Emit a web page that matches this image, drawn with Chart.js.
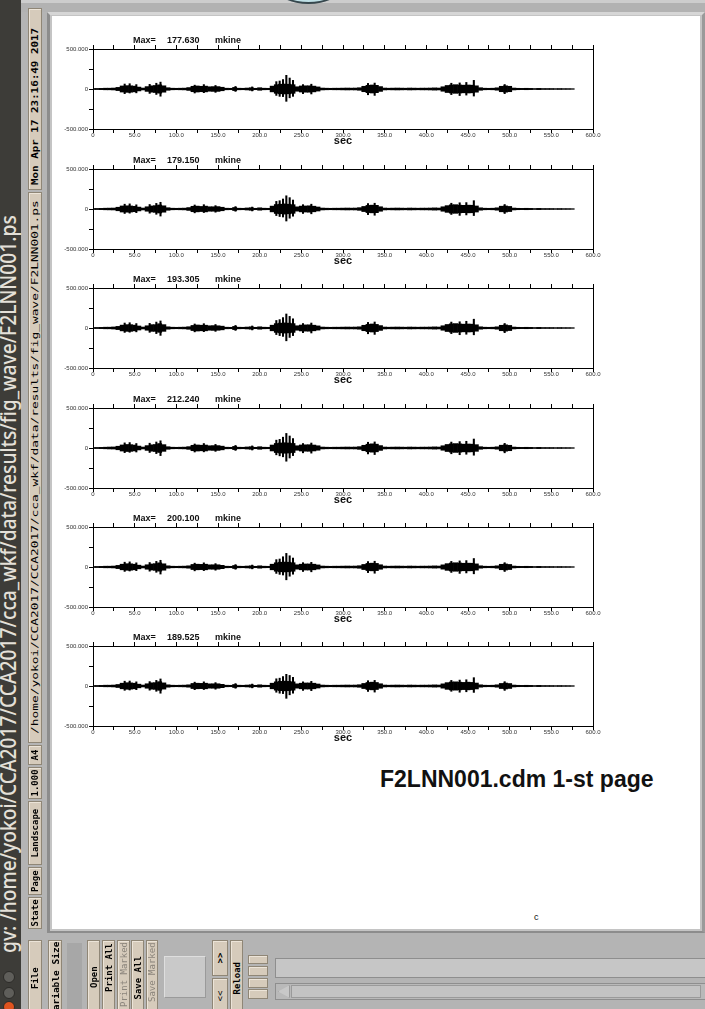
<!DOCTYPE html>
<html>
<head>
<meta charset="utf-8">
<script src="https://cdn.jsdelivr.net/npm/chart.js@4.4.1/dist/chart.umd.min.js"></script>
<style>
  html, body { margin: 0; padding: 0; }
  body { position: relative; width: 705px; height: 1009px; overflow: hidden; background: #b4b4b4; font-family: "Liberation Sans", Arial, sans-serif; }
  .abs { position: absolute; box-sizing: border-box; }
  .vt { position: absolute; left: 0; top: 0; white-space: nowrap; transform-origin: 0 0; line-height: 1; }
  .btn { background: #d6cbbb; border: 1px solid #8f8676; box-shadow: inset 1px 1px 0 #ece4d8; }
  canvas { position: absolute; }
</style>
</head>
<body>
<div class="abs" style="left:0;top:0;width:705px;height:3px;background:#cdcdcd"></div>
<div class="abs" style="left:20px;top:3px;width:685px;height:9px;background:#b2b2b2"></div>
<div class="abs" style="left:277px;top:-27px;width:63px;height:31px;border-radius:50%;border:2px solid #36474d;background:#bfe0e6"></div>
<div class="abs" style="left:47px;top:12px;width:658px;height:921px;border-top:3px solid #d6d6d6;border-left:3px solid #8c8c8c;border-right:3px solid #9a9a9a;border-bottom:2px solid #8c8c8c;background:#c4c4c4"></div>
<div class="abs" id="page" style="left:52px;top:16px;width:648px;height:913px;background:#fff"></div>
<div class="abs" style="left:380px;top:768px;font:bold 23px/23px 'Liberation Sans', Arial, sans-serif;color:#111;white-space:nowrap">F2LNN001.cdm 1-st page</div>
<div class="abs" style="left:534px;top:911px;font:9px/12px 'Liberation Sans', Arial, sans-serif;color:#111">c</div>
<div class="abs" style="left:0;top:0;width:21px;height:1009px;background:#3d3c38"></div>

<script>
// sample times of the envelope (sec)
const SEC = [0, 5, 10, 15, 20, 25, 30, 35, 40, 45,
  50, 55, 60, 65, 70, 75, 80, 85, 90, 95,
  100, 105, 110, 115, 120, 125, 130, 135, 140, 145,
  150, 155, 160, 165, 170, 175, 180, 185, 190, 195,
  200, 205, 210, 215, 220, 225, 230, 235, 240, 245,
  250, 255, 260, 265, 270, 275, 280, 285, 290, 295,
  300, 305, 310, 315, 320, 325, 330, 335, 340, 345,
  350, 355, 360, 365, 370, 375, 380, 385, 390, 395,
  400, 405, 410, 415, 420, 425, 430, 435, 440, 445,
  450, 455, 460, 465, 470, 475, 480, 485, 490, 495,
  500, 505, 510, 515, 520, 525, 530, 535, 540, 545,
  550, 555, 560, 565, 570, 575];

// dense core of each trace (mkine)
const TRACE_1 = [6, 7, 8, 10, 10, 12, 20, 38, 42, 40,
  36, 24, 12, 30, 40, 44, 52, 40, 16, 10,
  9, 10, 11, 18, 34, 38, 34, 36, 28, 30,
  30, 22, 10, 9, 20, 10, 9, 12, 16, 9,
  16, 10, 9, 36, 54, 60, 62, 60, 54, 28,
  38, 40, 40, 36, 26, 12, 10, 9, 10, 10,
  11, 12, 11, 12, 16, 34, 46, 50, 46, 30,
  12, 10, 11, 12, 11, 10, 12, 11, 10, 11,
  11, 12, 14, 12, 28, 44, 50, 54, 50, 48,
  50, 48, 40, 16, 10, 9, 10, 15, 34, 40,
  34, 12, 9, 8, 9, 8, 6, 8, 6, 6,
  6, 5, 6, 5, 5, 4];
const TRACE_2 = [6, 7, 8, 10, 11, 12, 22, 38, 40, 38,
  34, 24, 12, 28, 38, 42, 50, 40, 16, 10,
  9, 10, 11, 18, 34, 36, 32, 36, 28, 28,
  30, 22, 10, 9, 19, 10, 9, 13, 16, 9,
  15, 10, 9, 36, 56, 60, 64, 60, 54, 27,
  36, 38, 40, 35, 25, 12, 10, 9, 10, 10,
  11, 12, 11, 12, 17, 32, 45, 48, 46, 28,
  12, 10, 11, 12, 11, 10, 12, 11, 10, 11,
  11, 12, 14, 12, 28, 42, 52, 54, 48, 46,
  48, 47, 38, 15, 10, 9, 10, 15, 35, 38,
  32, 12, 9, 8, 9, 8, 6, 8, 6, 6,
  6, 5, 6, 5, 5, 4];
const TRACE_3 = [6, 7, 8, 10, 10, 13, 20, 36, 42, 42,
  36, 25, 12, 28, 42, 42, 54, 42, 15, 10,
  9, 10, 11, 16, 32, 38, 35, 35, 28, 30,
  28, 23, 10, 9, 20, 10, 9, 12, 15, 9,
  15, 10, 9, 35, 55, 61, 64, 61, 55, 28,
  37, 39, 40, 35, 26, 12, 10, 9, 10, 10,
  11, 12, 11, 12, 15, 34, 45, 50, 45, 30,
  12, 10, 11, 12, 11, 10, 12, 11, 10, 11,
  11, 12, 14, 12, 28, 44, 52, 55, 50, 48,
  50, 48, 40, 15, 10, 9, 10, 15, 34, 39,
  32, 12, 9, 8, 9, 8, 6, 8, 6, 6,
  6, 5, 6, 5, 5, 4];
const TRACE_4 = [6, 7, 8, 10, 12, 13, 22, 38, 44, 42,
  37, 24, 12, 30, 40, 44, 56, 42, 16, 10,
  9, 10, 11, 17, 34, 38, 35, 37, 28, 30,
  30, 23, 10, 9, 20, 10, 9, 13, 16, 9,
  16, 10, 9, 37, 57, 63, 66, 63, 57, 28,
  38, 40, 41, 37, 28, 12, 10, 9, 10, 10,
  11, 12, 11, 12, 17, 34, 47, 52, 48, 30,
  12, 10, 11, 12, 11, 10, 12, 11, 10, 11,
  11, 12, 14, 12, 28, 44, 52, 55, 52, 48,
  50, 48, 42, 16, 10, 9, 10, 15, 35, 40,
  34, 12, 9, 8, 9, 8, 6, 8, 6, 6,
  6, 5, 6, 5, 5, 4];
const TRACE_5 = [6, 7, 8, 10, 10, 12, 20, 35, 41, 40,
  35, 23, 12, 28, 38, 42, 52, 40, 15, 10,
  9, 10, 11, 15, 32, 35, 33, 35, 27, 28,
  28, 21, 10, 9, 19, 10, 9, 12, 15, 9,
  15, 10, 9, 35, 53, 60, 62, 60, 53, 27,
  35, 38, 38, 35, 26, 12, 10, 9, 10, 10,
  11, 12, 11, 12, 16, 32, 45, 48, 45, 28,
  12, 10, 11, 12, 11, 10, 12, 11, 10, 11,
  11, 12, 14, 12, 27, 42, 50, 53, 50, 47,
  48, 47, 39, 15, 10, 9, 10, 15, 34, 38,
  32, 12, 9, 8, 9, 8, 6, 8, 6, 6,
  6, 5, 6, 5, 5, 4];
const TRACE_6 = [6, 7, 8, 10, 10, 12, 19, 35, 41, 39,
  35, 23, 12, 28, 40, 42, 54, 39, 15, 10,
  9, 10, 11, 15, 32, 35, 33, 35, 27, 28,
  28, 21, 10, 9, 19, 10, 9, 12, 15, 9,
  15, 10, 9, 35, 52, 58, 61, 58, 52, 27,
  35, 38, 38, 35, 25, 12, 10, 9, 10, 10,
  11, 12, 11, 12, 16, 32, 44, 48, 44, 28,
  12, 10, 11, 12, 11, 10, 12, 11, 10, 11,
  11, 12, 14, 12, 27, 42, 50, 52, 48, 45,
  48, 45, 37, 15, 10, 9, 10, 15, 32, 37,
  31, 12, 9, 8, 9, 8, 6, 8, 6, 6,
  6, 5, 6, 5, 5, 4];

// single swings sticking out of the core: [sec, low, high]
const SPIKES_1 = [[38, -58, 62], [44, -50, 66], [52, -48, 55], [68, -55, 58], [76, -68, 72], [81, -90, 86],
  [122, -50, 48], [133, -46, 55], [147, -42, 44], [171, -30, 32], [191, -24, 26],
  [220, -80, 92], [224, -92, 100], [228, -95, 118], [232, -154, 171], [236, -110, 137], [240, -92, 108],
  [252, -58, 55], [262, -62, 60], [330, -72, 70], [338, -80, 74],
  [430, -70, 72], [440, -82, 76], [448, -76, 82], [457, -88, 108], [494, -58, 56]];
const SPIKES_2 = [[38, -56, 60], [44, -52, 64], [52, -46, 52], [68, -52, 56], [76, -66, 70], [81, -88, 84],
  [122, -48, 50], [133, -44, 54], [147, -40, 42], [171, -28, 30], [191, -24, 24],
  [220, -82, 95], [224, -94, 104], [228, -100, 125], [232, -150, 165], [236, -115, 142], [240, -90, 112],
  [252, -56, 54], [262, -60, 60], [330, -70, 68], [338, -78, 72],
  [430, -68, 72], [440, -80, 78], [448, -74, 80], [457, -82, 104], [494, -56, 56]];
const SPIKES_3 = [[38, -55, 62], [44, -52, 66], [52, -48, 56], [68, -54, 58], [76, -70, 74], [81, -92, 88],
  [122, -48, 50], [133, -46, 54], [147, -42, 44], [171, -30, 32], [191, -24, 25],
  [220, -82, 94], [224, -95, 105], [228, -105, 130], [232, -160, 175], [236, -118, 145], [240, -95, 115],
  [252, -58, 56], [262, -62, 62], [330, -72, 70], [338, -80, 75],
  [430, -70, 74], [440, -84, 78], [448, -78, 84], [457, -85, 110], [494, -58, 56]];
const SPIKES_4 = [[38, -58, 64], [44, -54, 68], [52, -50, 56], [68, -56, 60], [76, -70, 75], [81, -95, 90],
  [122, -50, 50], [133, -48, 56], [147, -42, 45], [171, -30, 32], [191, -25, 26],
  [220, -85, 98], [224, -98, 108], [228, -110, 135], [232, -165, 182], [236, -125, 150], [240, -95, 118],
  [252, -60, 56], [262, -64, 62], [330, -74, 72], [338, -82, 76],
  [430, -72, 74], [440, -84, 80], [448, -78, 84], [457, -90, 112], [494, -60, 58]];
const SPIKES_5 = [[38, -55, 60], [44, -50, 64], [52, -46, 52], [68, -52, 56], [76, -66, 70], [81, -88, 84],
  [122, -48, 48], [133, -45, 52], [147, -40, 42], [171, -28, 30], [191, -23, 24],
  [220, -80, 92], [224, -92, 100], [228, -100, 128], [232, -160, 170], [236, -115, 140], [240, -90, 112],
  [252, -56, 54], [262, -60, 58], [330, -70, 68], [338, -78, 72],
  [430, -68, 70], [440, -80, 76], [448, -74, 80], [457, -85, 106], [494, -56, 54]];
const SPIKES_6 = [[38, -54, 60], [44, -50, 62], [52, -46, 52], [68, -52, 55], [76, -66, 70], [81, -90, 88],
  [122, -46, 48], [133, -44, 52], [147, -40, 42], [171, -28, 30], [191, -23, 24],
  [220, -78, 90], [224, -90, 98], [228, -95, 118], [232, -154, 146], [236, -110, 132], [240, -90, 108],
  [252, -55, 52], [262, -58, 58], [330, -68, 66], [338, -76, 70],
  [430, -66, 70], [440, -78, 74], [448, -72, 78], [457, -80, 104], [494, -55, 54]];

const MAX_LABELS = ['177.630', '179.150', '193.305', '212.240', '200.100', '189.525'];
const UNIT = 'mkine';
const X_AXIS_TITLE = 'sec';

const TRACES = [TRACE_1, TRACE_2, TRACE_3, TRACE_4, TRACE_5, TRACE_6];
const SPIKES = [SPIKES_1, SPIKES_2, SPIKES_3, SPIKES_4, SPIKES_5, SPIKES_6];
const PANEL_TOPS = [49, 169, 288, 408, 527, 646];

Chart.defaults.font.family = '"Liberation Sans", Arial, sans-serif';

// titre "Max= ..." au-dessus du cadre et "sec" sous l'axe
const panelText = {
  id: 'panelText',
  afterDraw(chart, args, opts) {
    const { ctx, chartArea: a } = chart;
    ctx.save();
    ctx.fillStyle = '#111';
    ctx.textBaseline = 'middle';
    ctx.font = 'bold 9px "Liberation Sans", Arial, sans-serif';
    ctx.fillText('Max=', a.left + 40, a.top - 8);
    ctx.fillText(opts.max, a.left + 74, a.top - 8);
    ctx.fillText(UNIT, a.left + 122, a.top - 8);
    ctx.font = 'bold 11px "Liberation Sans", Arial, sans-serif';
    ctx.textAlign = 'center';
    ctx.fillText(X_AXIS_TITLE, (a.left + a.right) / 2, a.bottom + 12);
    ctx.restore();
  }
};

function makePanel(i) {
  const cv = document.createElement('canvas');
  cv.width = 580; cv.height = 126;
  cv.style.left = '38px';
  cv.style.top = (PANEL_TOPS[i] - 22) + 'px';
  document.body.appendChild(cv);

  const trace = TRACES[i];
  const edge = { color: '#000', width: 1 };
  new Chart(cv, {
    type: 'bar',
    data: {
      datasets: [{
        data: SEC.map((t, k) => ({ x: t, y: [-trace[k], trace[k]] })),
        backgroundColor: '#000',
        borderWidth: 0,
        barPercentage: 1,
        categoryPercentage: 1,
        grouped: false,
        xAxisID: 'x',
        yAxisID: 'y',
      }, {
        data: SPIKES[i].map((s) => ({ x: s[0], y: [s[1], s[2]] })),
        backgroundColor: '#000',
        borderWidth: 0,
        barThickness: 1.4,
        grouped: false,
        xAxisID: 'x2',
        yAxisID: 'y',
      }],
    },
    options: {
      responsive: false,
      animation: false,
      devicePixelRatio: 1,
      layout: { padding: 0 },
      plugins: { legend: { display: false }, tooltip: { enabled: false }, panelText: { max: MAX_LABELS[i] } },
      scales: {
        x: {
          type: 'linear', position: 'bottom', min: 0, max: 600, offset: false,
          grid: { offset: false, drawOnChartArea: false, tickLength: 4, color: '#000' },
          border: edge,
          ticks: {
            stepSize: 25, autoSkip: false, maxRotation: 0, padding: -1,
            color: '#333', font: { size: 6 },
            callback: (v) => (v % 50 === 0 ? (v === 0 ? '0' : v.toFixed(1)) : ''),
          },
          afterFit: (s) => { s.height = 24; },
        },
        x2: {
          type: 'linear', position: 'top', min: 0, max: 600, offset: false,
          grid: { offset: false, drawOnChartArea: false, tickLength: 4, color: '#000' },
          border: edge,
          ticks: { stepSize: 25, display: false, autoSkip: false },
          afterFit: (s) => { s.height = 22; },
        },
        y: {
          type: 'linear', position: 'left', min: -500, max: 500,
          grid: { drawOnChartArea: false, tickLength: 4, color: '#000' },
          border: edge,
          ticks: {
            stepSize: 250, autoSkip: false, padding: 1,
            color: '#333', font: { size: 6 },
            callback: (v) => (v === 0 ? '0' : Math.abs(v) === 500 ? v.toFixed(3) : ''),
          },
          afterFit: (s) => { s.width = 55; },
        },
        y2: {
          type: 'linear', position: 'right', min: -500, max: 500,
          grid: { display: false },
          border: edge,
          ticks: { display: false },
          afterFit: (s) => { s.width = 25; },
        },
      },
    },
    plugins: [panelText],
  });
}

for (let i = 0; i < 6; i++) makePanel(i);

// ---- fenêtre gv : barre de titre, colonne de gauche, boutons du bas ----
function box(x, y, w, h, cls, bg) {
  const d = document.createElement('div');
  d.className = 'abs ' + (cls || '');
  d.style.cssText += `left:${x}px;top:${y}px;width:${w}px;height:${h}px;` + (bg ? `background:${bg};` : '');
  document.body.appendChild(d);
  return d;
}

function vlabel(text, o) {
  const s = document.createElement('span');
  s.className = 'vt';
  s.textContent = text;
  s.style.font = o.font;
  s.style.color = o.color || '#000';
  document.body.appendChild(s);
  const w = s.offsetWidth, h = s.offsetHeight;
  const k = o.len ? o.len / w : 1;
  const len = w * k;
  let yb;
  if (o.bottom != null) yb = o.bottom;
  else if (o.top != null) yb = o.top + len;
  else yb = o.cy + len / 2;
  s.style.transform = `translate(${o.cx - h / 2}px, ${yb}px) rotate(-90deg) scaleX(${k})`;
}

const MONO = 'bold 9px "DejaVu Sans Mono", "Liberation Mono", monospace';
const MONO_N = '9px "DejaVu Sans Mono", "Liberation Mono", monospace';

// barre de titre
vlabel('gv: /home/yokoi/CCA2017/CCA2017/cca_wkf/data/results/fig_wave/F2LNN001.ps',
  { font: '500 22px "Noto Sans", "DejaVu Sans", sans-serif', color: '#e4e0d8', cx: 6.5, bottom: 953, len: 738 });
const circ = (cy, bg) => {
  const c = box(3, cy - 6, 12, 12, '', bg);
  c.style.borderRadius = '50%';
  c.style.border = '1px solid #2c2b28';
};
circ(977, '#5f5e5a');
circ(993, '#5f5e5a');
circ(1007, '#e0531f');

// colonne de gauche
box(28, 8, 14, 182, 'btn');
vlabel('Mon Apr 17 23:16:49 2017', { font: MONO, cx: 35, bottom: 185, len: 157 });
box(28, 192, 14, 551, 'btn');
vlabel('/home/yokoi/CCA2017/CCA2017/cca_wkf/data/results/fig_wave/F2LNN001.ps', { font: MONO_N, cx: 35, bottom: 734, len: 534 });
[[745, 20, 'A4'], [767, 32, '1.000'], [801, 64, 'Landscape'], [867, 28, 'Page'], [897, 32, 'State']].forEach(([y, h, t]) => {
  box(28, y, 14, h, 'btn');
  vlabel(t, { font: MONO, cx: 35, cy: y + h / 2 });
});

// boutons du bas
box(28, 940, 14, 75, 'btn');
vlabel('File', { font: MONO, cx: 35, cy: 978 });
box(48, 940, 14, 75, 'btn');
vlabel('Variable Size', { font: 'bold 9.5px "DejaVu Sans Mono", monospace', cx: 55, top: 942 });
box(67, 943, 15, 70, '', '#a7a7a7');
box(87, 940, 13, 75, 'btn');
vlabel('Open', { font: MONO, cx: 93.5, cy: 977 });
box(102, 940, 13, 75, 'btn');
vlabel('Print All', { font: MONO, cx: 108.5, top: 943 });
box(117, 940, 13, 75, 'btn');
vlabel('Print Marked', { font: MONO_N, cx: 123.5, top: 942, color: '#8b857c' });
box(131, 940, 13, 75, 'btn');
vlabel('Save All', { font: MONO, cx: 137.5, cy: 978 });
box(146, 940, 12, 75, 'btn');
vlabel('Save Marked', { font: MONO_N, cx: 152, top: 942, color: '#8b857c' });
const sq = box(164, 956, 42, 42, '', '#c9c9c9');
sq.style.border = '1px solid #dedede';
sq.style.borderRightColor = sq.style.borderBottomColor = '#9a9a9a';
box(212, 940, 16, 36, 'btn');
vlabel('>>', { font: MONO, cx: 220, cy: 958 });
box(212, 978, 16, 40, 'btn');
vlabel('<<', { font: MONO_N, cx: 220, cy: 996 });
box(230, 940, 13, 75, 'btn');
vlabel('Reload', { font: MONO, cx: 236.5, cy: 978 });
[[955, 9], [966, 10], [978, 10], [989, 10]].forEach(([y, h]) => box(248, y, 20, h, 'btn'));
const bar = box(275, 958, 440, 20, '', '#c6c6c6');
bar.style.border = '1px solid #8e8e8e';
bar.style.borderRight = 'none';
const sc = box(275, 983, 440, 17, '', '#b9b9b9');
sc.style.border = '1px solid #8e8e8e';
sc.style.borderRight = 'none';
const tr = box(278, 985, 12, 13, '', '#c8c8c8');
tr.style.border = '1px solid #9a9a9a';
tr.style.clipPath = 'polygon(100% 0, 0 50%, 100% 100%)';
box(291, 985, 410, 13, '', '#c3c3c3').style.border = '1px solid #9a9a9a';
</script>
</body>
</html>
